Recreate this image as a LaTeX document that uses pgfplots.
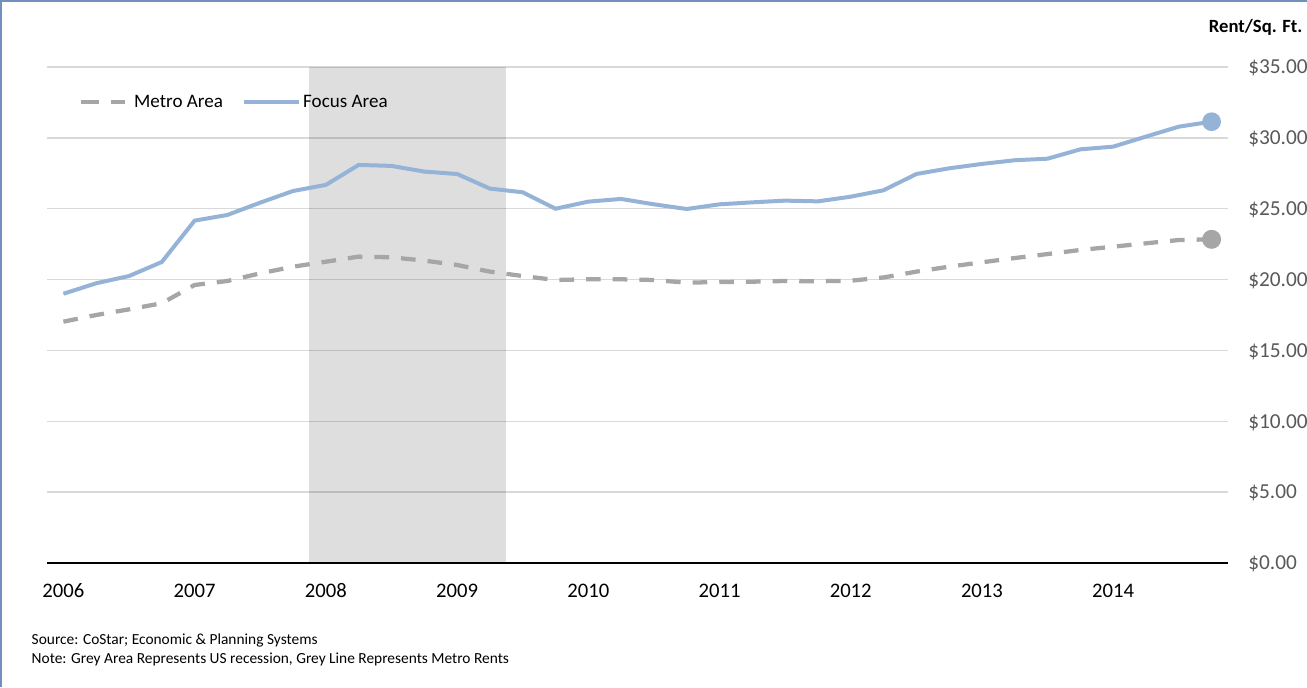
\documentclass[border=0pt]{standalone}
\usepackage{fontspec}
\setmainfont{Carlito}
\usepackage{pgfplots}
\usepackage{pgfplotstable}
\pgfplotsset{compat=1.18}
\definecolor{focusblue}{RGB}{149,179,215}
\definecolor{metrogray}{RGB}{166,166,166}
\definecolor{gridgray}{RGB}{217,217,217}
\definecolor{ticktext}{RGB}{89,89,89}
\definecolor{framecol}{RGB}{112,144,190}

\pgfplotsset{
  metroleg/.style={legend image code/.code={\draw[##1, dash pattern=on 13.5pt off 9pt] (0pt,0pt) -- (33pt,0pt); \path (36pt,0pt);}},
  focusleg/.style={legend image code/.code={\draw[##1] (0pt,0pt) -- (38.5pt,0pt); \path (0pt,0pt) -- (41.25pt,0pt);}},
}

\pgfplotstableread{
q focus metro
0 19.00 17.03
1 19.74 17.50
2 20.25 17.90
3 21.24 18.33
4 24.16 19.62
5 24.56 19.90
6 25.43 20.44
7 26.25 20.91
8 26.68 21.26
9 28.09 21.62
10 28.02 21.57
11 27.62 21.34
12 27.45 21.03
13 26.42 20.56
14 26.16 20.25
15 25.00 19.97
16 25.50 20.02
17 25.69 20.02
18 25.31 19.97
19 24.98 19.78
20 25.31 19.83
21 25.45 19.85
22 25.57 19.90
23 25.52 19.88
24 25.85 19.92
25 26.30 20.15
26 27.45 20.56
27 27.85 20.91
28 28.16 21.22
29 28.42 21.52
30 28.53 21.80
31 29.19 22.09
32 29.38 22.32
33 30.09 22.56
34 30.79 22.79
35 31.14 22.84
}\rentdata

\pgfplotstableread{
x y
7.5 35
13.5 35
}\recession

\begin{document}
\begin{tikzpicture}
\path[use as bounding box] (0,0) rectangle (980.25pt,515.25pt);
\draw[framecol, line width=1.1pt] (0.8pt,0) -- (0.8pt,514.45pt) -- (980.25pt,514.45pt);
\begin{axis}[
  at={(35.25pt,93pt)}, anchor=south west,
  scale only axis, width=885.75pt, height=372pt,
  xmin=-0.5, xmax=35.5, ymin=0, ymax=35,
  clip=false,
  axis line style={draw=none},
  xtick={0,4,8,12,16,20,24,28,32},
  xticklabels={2006,2007,2008,2009,2010,2011,2012,2013,2014},
  ytick={0,5,10,15,20,25,30,35},
  yticklabels={\$0.00,\$5.00,\$10.00,\$15.00,\$20.00,\$25.00,\$30.00,\$35.00},
  yticklabel pos=right,
  major tick length=0pt,
  ymajorgrids,
  grid style={gridgray, line width=1pt},
  xticklabel style={font=\fontsize{15.5}{18}\selectfont, text=black, anchor=base, inner sep=0pt, yshift=-25.6pt},
  yticklabel style={font=\fontsize{16}{19}\selectfont, text=ticktext, anchor=base west, inner sep=0pt, xshift=15pt, yshift=-5.1pt},
  legend style={at={(0.027,0.929)}, anchor=west, draw=none, fill=none,
    font=\fontsize{14.3}{17}\selectfont, inner sep=0pt,
    /tikz/every even column/.append style={column sep=12pt}},
  legend columns=2,
  legend cell align=left,
]
\addplot[fill=black, fill opacity=0.13, draw=none, forget plot] table[x=x, y=y] {\recession} \closedcycle;
\draw[black, line width=1.7pt] (axis cs:-0.5,0) -- (axis cs:35.5,0);
\addplot[metrogray, line width=3.2pt, dash pattern=on 11pt off 9pt,
  mark=*, mark indices={36}, mark size=5.5pt, mark options={solid, fill=metrogray, draw=metrogray},
  metroleg]
  table[x=q, y=metro] {\rentdata};
\addlegendentry{Metro Area}
\addplot[focusblue, line width=3pt,
  mark=*, mark indices={36}, mark size=5.5pt, mark options={solid, fill=focusblue, draw=focusblue},
  focusleg]
  table[x=q, y=focus] {\rentdata};
\addlegendentry{Focus Area}
\end{axis}
\node[anchor=base east, inner sep=0pt, font=\fontsize{14}{17}\selectfont\bfseries] at (977pt,490.7pt) {Rent/Sq. Ft.};
\node[anchor=base west, inner sep=0pt, font=\fontsize{11.55}{13}\selectfont] at (23.6pt,32.25pt) {Source: CoStar; Economic \& Planning Systems};
\node[anchor=base west, inner sep=0pt, font=\fontsize{11.55}{13}\selectfont] at (23.6pt,17.6pt) {Note: Grey Area Represents US recession, Grey Line Represents Metro Rents};
\end{tikzpicture}
\end{document}
